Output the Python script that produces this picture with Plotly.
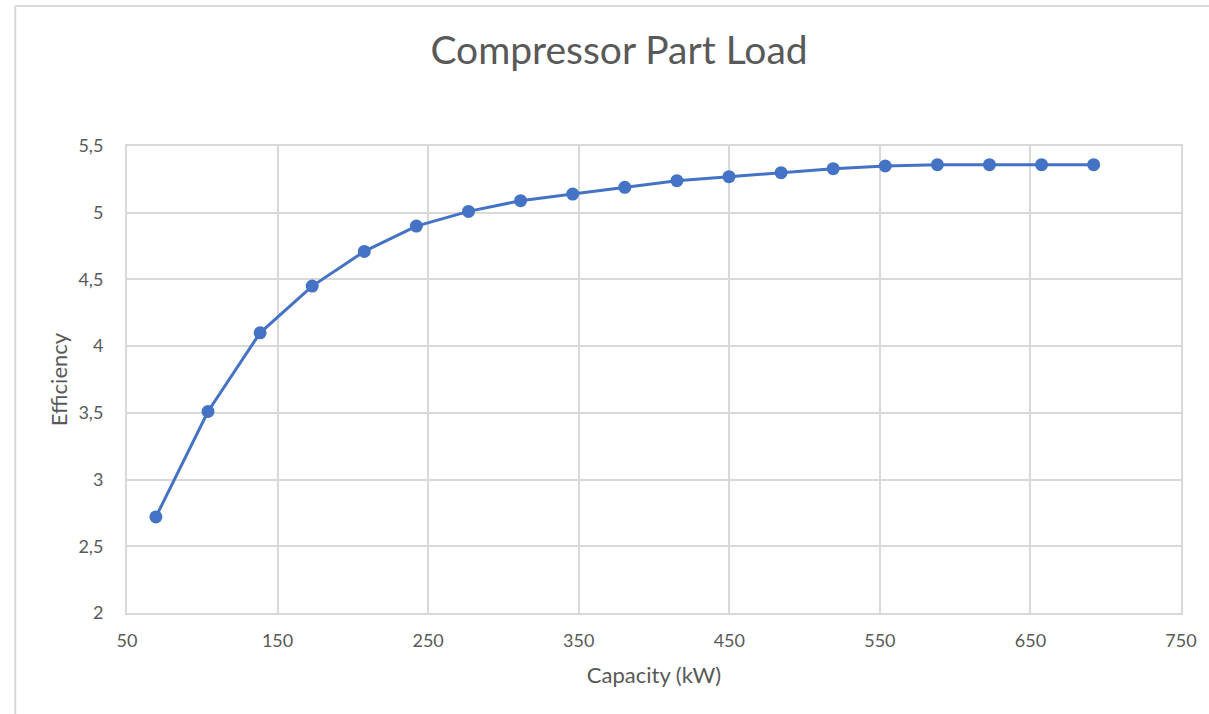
import plotly.graph_objects as go

# Compressor part-load performance
capacity_kw = [69.2, 103.8, 138.4, 173.0, 207.6, 242.2, 276.8, 311.4, 346.0, 380.6,
               415.2, 449.8, 484.4, 519.0, 553.6, 588.2, 622.8, 657.4, 692.0]
efficiency = [2.72, 3.51, 4.10, 4.45, 4.71, 4.90, 5.01, 5.09, 5.14, 5.19,
              5.24, 5.27, 5.30, 5.33, 5.35, 5.36, 5.36, 5.36, 5.36]

W, H = 1209, 714
ML, MR, MT, MB = 127, 26, 146, 101
PW, PH = W - ML - MR, H - MT - MB

def px(x):
    return (x - ML) / PW

def py(y):
    return (H - MB - y) / PH

FONT = "Lato"
TXT = "#595959"
GRID = "#d9d9d9"
BLUE = "#4472C4"

fig = go.Figure()
fig.add_trace(go.Scatter(
    x=capacity_kw, y=efficiency, mode="lines+markers",
    line=dict(color=BLUE, width=3),
    marker=dict(color=BLUE, size=13),
    showlegend=False,
))

fig.update_layout(
    width=W, height=H,
    margin=dict(l=ML, r=MR, t=MT, b=MB),
    paper_bgcolor="white", plot_bgcolor="white",
    separators=", ",
    font=dict(family=FONT, color=TXT),
    title=dict(text="Compressor Part Load", xref="container", x=619 / W, xanchor="center",
               yref="container", y=1 - 50 / H, yanchor="middle",
               font=dict(family=FONT, size=39, color=TXT)),
    xaxis=dict(range=[50, 750], dtick=100, tick0=50, showgrid=True, gridcolor=GRID,
               gridwidth=2, showline=True, linecolor=GRID, linewidth=2, mirror=True,
               zeroline=False, ticks="", tickfont=dict(size=18, color=TXT),
               ticklabelstandoff=10,
               title=dict(text="Capacity (kW)", font=dict(size=22, color=TXT), standoff=18)),
    yaxis=dict(range=[2, 5.5], dtick=0.5, showgrid=True, gridcolor=GRID,
               gridwidth=2, showline=True, linecolor=GRID, linewidth=2, mirror=True,
               zeroline=False, ticks="", tickfont=dict(size=18, color=TXT),
               ticklabelstandoff=18,
               title=dict(text="Efficiency", font=dict(size=22, color=TXT), standoff=5)),
    shapes=[
        dict(type="line", xref="paper", yref="paper", x0=px(15), x1=px(W + 5),
             y0=py(6), y1=py(6), line=dict(color=GRID, width=2)),
        dict(type="line", xref="paper", yref="paper", x0=px(15), x1=px(15),
             y0=py(6), y1=py(H + 5), line=dict(color=GRID, width=2)),
    ],
)

fig.write_html("out.html")
